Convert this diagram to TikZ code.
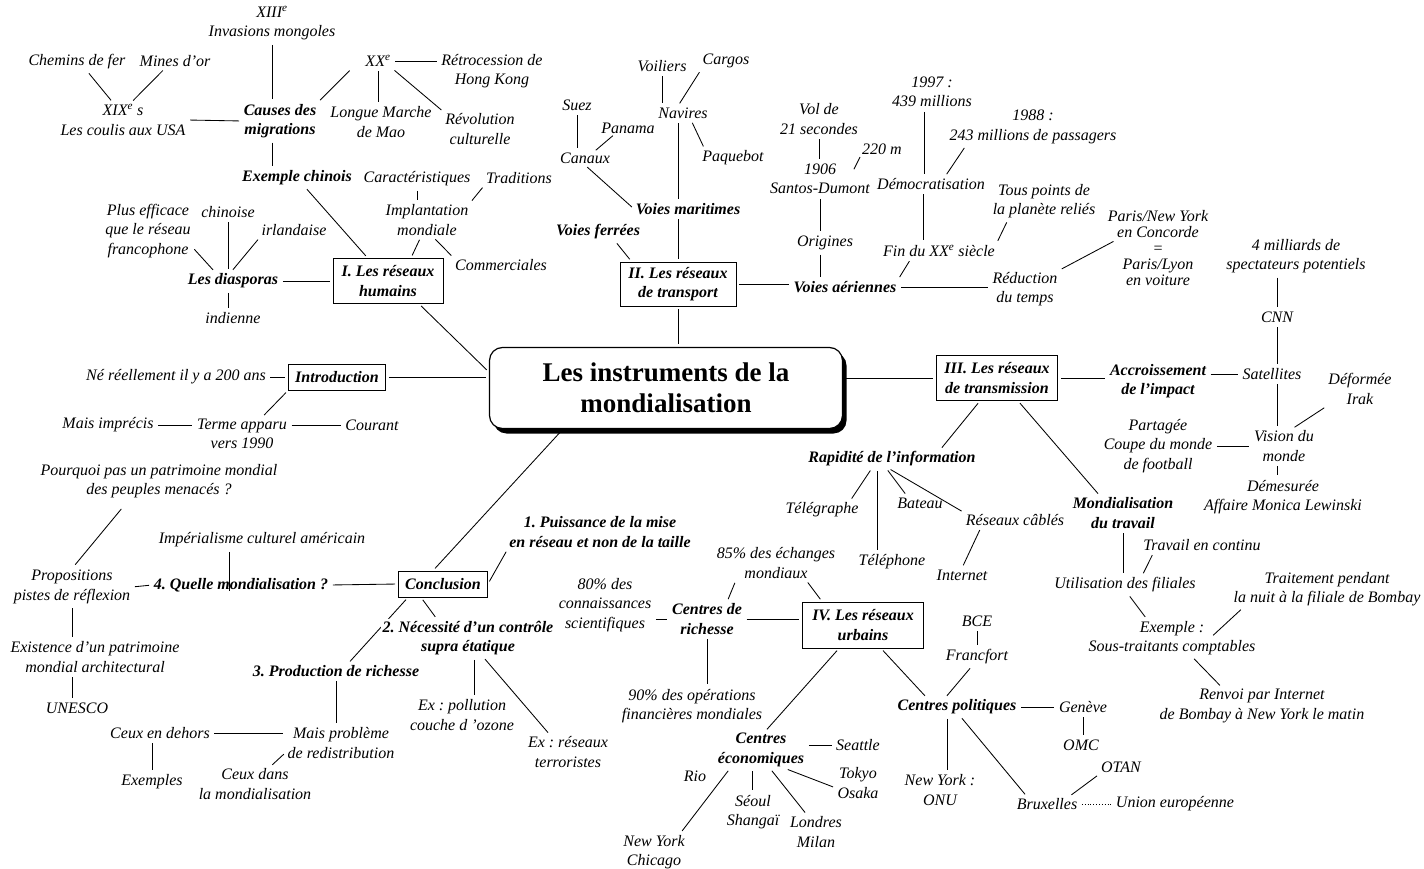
\documentclass[tikz,border=0pt]{standalone}
\usepackage{fontspec}
\setmainfont{Liberation Serif}
\usetikzlibrary{shadows,backgrounds}
\begin{document}
\frenchspacing
\begin{tikzpicture}[x=1pt,y=-1pt,
  t/.style={font=\fontsize{16}{19.5}\selectfont\itshape, align=center, inner sep=1.5pt},
  b/.style={t, font=\fontsize{16}{19.5}\selectfont\bfseries\itshape},
  box/.style={b, draw, line width=0.8pt, inner xsep=4pt, inner ysep=3pt},
  titlebox/.style={draw, line width=1.2pt, rounded corners=13pt, fill=white,
    minimum width=353pt, minimum height=81pt, align=center,
    font=\fontsize{27}{31}\selectfont\bfseries,
    drop shadow={shadow xshift=4pt, shadow yshift=-5pt, opacity=1, fill=black}},
  ln/.style={line width=0.85pt, shorten <=3pt, shorten >=3pt}]
\useasboundingbox (0,0) rectangle (1424,869);

% ---------- title
\node[titlebox] (title) at (666,388) {Les instruments de la\\mondialisation};

% ---------- I. reseaux humains
\node[t] (xiii) at (272,23) {XIII\textsuperscript{e}\\Invasions mongoles};
\node[t] (chemins) at (77,62) {Chemins de fer};
\node[t] (mines) at (175,61) {Mines d'or};
\node[t] (xix) at (123,120) {XIX\textsuperscript{e} s\\Les coulis aux USA};
\node[b] (causes) at (280,121) {Causes des\\migrations};
\node[t] (xx) at (378,61) {XX\textsuperscript{e}};
\node[t] (retro) at (492,71) {Rétrocession de\\Hong Kong};
\node[t] (longue) at (381,122) {Longue Marche\\de Mao};
\node[t] (revol) at (480,129) {Révolution\\culturelle};
\node[b] (exchinois) at (297,178) {Exemple chinois};
\node[t] (caract) at (417,179) {Caractéristiques};
\node[t] (traditions) at (519,178) {Traditions};
\node[t] (implant) at (427,220) {Implantation\\mondiale};
\node[t] (commerciales) at (501,265) {Commerciales};
\node[t] (plusefficace) at (148,231) {Plus efficace\\que le réseau\\francophone};
\node[t] (chinoise) at (228,212) {chinoise};
\node[t] (irlandaise) at (294,230) {irlandaise};
\node[b] (diasporas) at (233,281) {Les diasporas};
\node[t] (indienne) at (233,318) {indienne};
\node[box, minimum width=110pt, minimum height=45pt] (Ibox) at (388,281) {I. Les réseaux\\humains};

% ---------- II. transport
\node[t] (voiliers) at (662,66) {Voiliers};
\node[t] (cargos) at (726,61) {Cargos};
\node[t] (suez) at (577,105) {Suez};
\node[t] (navires) at (683,113) {Navires};
\node[t] (panama) at (628,128) {Panama};
\node[t] (canaux) at (585,158) {Canaux};
\node[t] (paquebot) at (733,158) {Paquebot};
\node[b] (voiesmar) at (688,209) {Voies maritimes};
\node[b] (voiesfer) at (598,232) {Voies ferrées};
\node[box, minimum width=116pt, minimum height=44pt] (IIbox) at (678,284) {II. Les réseaux\\de transport};
\node[t] (vol) at (819,119) {Vol de\\21 secondes};
\node[t] (m220) at (882,149) {220 m};
\node[t] (santos) at (820,179) {1906\\Santos-Dumont};
\node[t] (origines) at (825,243) {Origines};
\node[t] (y1997) at (932,92) {1997 :\\439 millions};
\node[t] (y1988) at (1033,127) {1988 :\\243 millions de passagers};
\node[t] (democ) at (931,184) {Démocratisation};
\node[t] (tous) at (1044,201) {Tous points de\\la planète reliés};
\node[t] (fin) at (939,251) {Fin du XX\textsuperscript{e} siècle};
\node[b] (voiesaer) at (845,287) {Voies aériennes};
\node[t] (reduction) at (1025,289) {Réduction\\du temps};
\node[t, font=\fontsize{16}{15.8}\selectfont\itshape] (paris) at (1158,248) {Paris/New York\\en Concorde\\=\\Paris/Lyon\\en voiture};

% ---------- III. transmission
\node[box, minimum width=121pt, minimum height=45pt] (IIIbox) at (997,378) {III. Les réseaux\\de transmission};
\node[b] (accrois) at (1158,381) {Accroissement\\de l'impact};
\node[t] (satellites) at (1272,374) {Satellites};
\node[t] (milliards) at (1296,256) {4 milliards de\\spectateurs potentiels};
\node[t] (cnn) at (1277,317) {CNN};
\node[t] (deformee) at (1360,389) {Déformée\\Irak};
\node[t] (vision) at (1284,446) {Vision du\\monde};
\node[t] (partagee) at (1158,446) {Partagée\\Coupe du monde\\de football};
\node[t] (demesuree) at (1283,497) {Démesurée\\Affaire Monica Lewinski};
\node[b] (rapidite) at (892,459) {Rapidité de l'information};
\node[t] (telegraphe) at (822,510) {Télégraphe};
\node[t] (bateau) at (920,503) {Bateau};
\node[t] (cables) at (1015,520) {Réseaux câblés};
\node[t] (telephone) at (892,562) {Téléphone};
\node[t] (internet) at (962,575) {Internet};
\node[b] (mondtravail) at (1123,513) {Mondialisation\\du travail};
\node[t] (travailcontinu) at (1202,545) {Travail en continu};
\node[t] (utilisation) at (1125,585) {Utilisation des filiales};
\node[t] (traitement) at (1327,589) {Traitement pendant\\la nuit à la filiale de Bombay};
\node[t] (exemple) at (1172,638) {Exemple :\\Sous-traitants comptables};
\node[t] (renvoi) at (1262,706) {Renvoi par Internet\\de Bombay à New York le matin};

% ---------- IV. urbains
\node[box, minimum width=121pt, minimum height=46pt] (IVbox) at (863,625) {IV. Les réseaux\\urbains};
\node[b] (centresrich) at (707,619) {Centres de\\richesse};
\node[t] (pct85) at (776,563) {85\% des échanges\\mondiaux};
\node[t] (pct80) at (605,605) {80\% des\\connaissances\\scientifiques};
\node[t] (pct90) at (692,706) {90\% des opérations\\financières mondiales};
\node[b] (centreseco) at (761,750) {Centres\\économiques};
\node[t] (seattle) at (858,745) {Seattle};
\node[t] (tokyo) at (858,783) {Tokyo\\Osaka};
\node[t] (rio) at (695,776) {Rio};
\node[t] (seoul) at (753,812) {Séoul\\Shangaï};
\node[t] (londres) at (816,832) {Londres\\Milan};
\node[t] (nyc) at (654,852) {New York\\Chicago};
\node[t] (bce) at (977,621) {BCE};
\node[t] (francfort) at (977,657) {Francfort};
\node[b] (centrespol) at (957,707) {Centres politiques};
\node[t] (geneve) at (1083,707) {Genève};
\node[t] (omc) at (1081,745) {OMC};
\node[t] (otan) at (1121,767) {OTAN};
\node[t] (nyonu) at (940,790) {New York :\\ONU};
\node[t] (bruxelles) at (1047,804) {Bruxelles};
\node[t] (ue) at (1175,804) {Union européenne};

% ---------- introduction / conclusion
\node[box, minimum width=97pt, minimum height=26pt, inner ysep=2pt] (intro) at (337,377) {Introduction};
\node[t] (ne) at (176,377) {Né réellement il y a 200 ans};
\node[t] (terme) at (242,434) {Terme apparu\\vers 1990};
\node[t] (mais) at (108,425) {Mais imprécis};
\node[t] (courant) at (372,425) {Courant};
\node[t] (pourquoi) at (159,481) {Pourquoi pas un patrimoine mondial\\des peuples menacés ?};
\node[t] (imperialisme) at (262,540) {Impérialisme culturel américain};
\node[t] (propositions) at (72,587) {Propositions\\pistes de réflexion};
\node[b] (quelle) at (241,585) {4. Quelle mondialisation ?};
\node[box, minimum width=89pt, minimum height=26pt, inner ysep=2pt] (conclusion) at (443,584) {Conclusion};
\node[b] (puissance) at (600,532) {1. Puissance de la mise\\en réseau et non de la taille};
\node[b, fill=white] (necessite) at (468,638) {2. Nécessité d'un contrôle\\supra étatique};
\node[b] (production) at (336,671) {3. Production de richesse};
\node[t] (existence) at (95,657) {Existence d'un patrimoine\\mondial architectural};
\node[t] (unesco) at (77,708) {UNESCO};
\node[t] (maisprob) at (341,743) {Mais problème\\de redistribution};
\node[t] (ceuxdehors) at (160,733) {Ceux en dehors};
\node[t] (exemples) at (152,782) {Exemples};
\node[t] (ceuxdans) at (255,784) {Ceux dans\\la mondialisation};
\node[t] (pollution) at (462,715) {Ex : pollution\\couche d 'ozone};
\node[t] (terroristes) at (568,752) {Ex : réseaux\\terroristes};

\begin{pgfonlayer}{background}
\fill[white] (0,0) rectangle (1424,869);
% top-left
\draw[ln] (xiii.south) -- (xiii.south |- causes.north);
\draw[ln] ([xshift=10pt]chemins.south) -- ([xshift=-10pt]xix.north);
\draw[ln] ([xshift=-10pt]mines.south) -- ([xshift=8pt]xix.north);
\draw[ln] (xix.east) -- (causes.west);
\draw[ln] (causes.north east) -- ([xshift=-12pt]xx.south west);
\draw[ln] (xx.east) -- (retro.west |- xx.east);
\draw[ln] (xx.south) -- (xx.south |- longue.north);
\draw[ln] (xx.south east) -- (revol.north west);
\draw[ln] (xiii.south |- causes.south) -- (xiii.south |- exchinois.north);
\draw[ln] (exchinois) -- (Ibox);
\draw[ln] (caract.south) -- (caract.south |- implant.north);
\draw[ln] (traditions.south west) -- (implant.north east);
\draw[ln] (implant.250) -- (Ibox.45);
\draw[ln] (implant.290) -- (commerciales.north west);
\draw[ln] (plusefficace.-20) -- ([xshift=-18pt]diasporas.north);
\draw[ln] (chinoise.south) -- (chinoise.south |- diasporas.north);
\draw[ln] (irlandaise.south west) -- ([xshift=-2pt]diasporas.north);
\draw[ln] (diasporas.east) -- (Ibox.west |- diasporas.east);
\draw[ln] (chinoise.south |- diasporas.south) -- (chinoise.south |- indienne.north);
\draw[ln] ([xshift=31pt]Ibox.south) -- ([yshift=16pt]title.west);
% intro
\draw[ln] (intro.east) -- (title.west |- intro.east);
\draw[ln] (ne.east) -- (intro.west);
\draw[ln] (intro.south west) -- ([xshift=20pt]terme.north);
\draw[ln] (mais.east) -- (terme.west |- mais.east);
\draw[ln] (terme.east |- courant.west) -- (courant.west);
% conclusion
\draw[ln] ([xshift=-103pt]title.south) -- ([xshift=-10pt]conclusion.north);
\draw[ln] (conclusion.east) -- (puissance.south west);
\draw[ln] (quelle.east) -- (conclusion.west);
\draw[ln] ([xshift=-33pt]imperialisme.south) -- ([xshift=-33pt]imperialisme.south |- quelle.south);
\draw[ln] (propositions.east) -- (quelle.west);
\draw[ln, shorten <=12pt, shorten >=5pt] ([xshift=-30pt]pourquoi.south) -- (propositions.north);
\draw[ln] (propositions.south) -- (propositions.south |- existence.north);
\draw[ln] (propositions.south |- existence.south) -- (propositions.south |- unesco.north);
\draw[ln] ([xshift=-35pt]conclusion.south) -- ([xshift=12pt]production.north);
\draw[ln] ([xshift=-22pt]conclusion.south) -- ([xshift=-31pt]necessite.north);
\draw[ln] ([xshift=6pt]necessite.south) -- ([xshift=6pt]necessite.south |- pollution.north);
\draw[ln] ([xshift=15pt]necessite.south) -- ([xshift=-18pt]terroristes.north);
\draw[ln] (production.south) -- (production.south |- maisprob.north);
\draw[ln] (ceuxdehors.east) -- (maisprob.west |- ceuxdehors.east);
\draw[ln] ([yshift=8pt]maisprob.south west) -- ([xshift=15pt]ceuxdans.north);
\draw[ln] (exemples.north |- ceuxdehors.south) -- (exemples.north);
% transport
\draw[ln] (voiliers.south) -- (voiliers.south |- navires.north);
\draw[ln] (cargos.south west) -- ([xshift=-5pt]navires.north);
\draw[ln] ([xshift=8pt]navires.south) -- ([xshift=4pt]paquebot.north west);
\draw[ln] (suez.south) -- (suez.south |- canaux.north);
\draw[ln, shorten <=1pt, shorten >=1pt] ([xshift=14pt]panama.south west) -- ([xshift=10pt]canaux.north);
\draw[ln] (canaux.south) -- (voiesmar.west);
\draw[ln] (IIbox.north |- navires.south) -- (IIbox.north |- voiesmar.north);
\draw[ln] (IIbox.north |- voiesmar.south) -- (IIbox.north);
\draw[ln] ([xshift=17pt]voiesfer.south) -- ([xshift=12pt]IIbox.north west);
\draw[ln] (IIbox.south) -- (IIbox.south |- title.north);
\draw[ln] (IIbox.east) -- (voiesaer.west |- IIbox.east);
% air
\draw[ln] (vol.south) -- (vol.south |- santos.north);
\draw[ln, shorten <=1pt, shorten >=1pt] (m220.south west) -- ([xshift=-18pt,yshift=-8pt]santos.north east);
\draw[ln] (santos.south) -- (santos.south |- origines.north);
\draw[ln] (santos.south |- origines.south) -- (santos.south |- voiesaer.north);
\draw[ln] ([xshift=-8pt]y1997.south) -- ([xshift=-8pt]y1997.south |- democ.north);
\draw[ln] ([xshift=-67pt]y1988.south) -- ([xshift=14pt]democ.north);
\draw[ln] ([xshift=-8pt]democ.south) -- ([xshift=-8pt]democ.south |- fin.north);
\draw[ln] ([xshift=-36pt]tous.south) -- (fin.north east);
\draw[ln] ([xshift=-28pt]fin.south) -- (voiesaer.north east);
\draw[ln] (voiesaer.east) -- (reduction.west |- voiesaer.east);
\draw[ln] (reduction.north east) -- ([xshift=10pt,yshift=8pt]paris.west);
% transmission
\draw[ln] (title.east |- IIIbox.west) -- (IIIbox.west);
\draw[ln] (IIIbox.east) -- (accrois.west |- IIIbox.east);
\draw[ln] (accrois.east |- satellites.west) -- (satellites.west);
\draw[ln] (cnn.north |- milliards.south) -- (cnn.north);
\draw[ln] (cnn.south) -- (cnn.south |- satellites.north);
\draw[ln] (cnn.south |- satellites.south) -- (cnn.south |- vision.north);
\draw[ln] (deformee.south west) -- ([xshift=8pt]vision.north);
\draw[ln] (partagee.east |- vision.west) -- (vision.west);
\draw[ln] (cnn.south |- vision.south) -- (cnn.south |- demesuree.north);
\draw[ln] ([xshift=-17pt]IIIbox.south) -- ([xshift=48pt]rapidite.north);
\draw[ln] ([xshift=21pt]IIIbox.south) -- ([xshift=-23pt]mondtravail.north);
\draw[ln] ([xshift=-20pt]rapidite.south) -- ([xshift=28pt]telegraphe.north);
\draw[ln] ([xshift=-15pt]rapidite.south) -- ([xshift=-15pt]rapidite.south |- telephone.north);
\draw[ln] ([xshift=-6pt]rapidite.south) -- ([xshift=-13pt]bateau.north);
\draw[ln] ([xshift=-4pt]rapidite.south) -- (cables.north west);
\draw[ln] ([xshift=-34pt]cables.south) -- (internet.north);
\draw[ln] (mondtravail.south) -- (mondtravail.south |- utilisation.north);
\draw[ln] ([xshift=12pt]travailcontinu.south west) -- ([xshift=17pt]utilisation.north);
\draw[ln] ([xshift=3pt]utilisation.south) -- ([xshift=-25pt]exemple.north);
\draw[ln] ([xshift=11pt]traitement.south west) -- ([xshift=39pt,yshift=-18pt]exemple.north);
\draw[ln] ([xshift=20pt]exemple.south) -- ([xshift=-40pt]renvoi.north);
% urbains
\draw[ln] ([xshift=-40pt]pct85.south) -- ([xshift=20pt]centresrich.north);
\draw[ln] ([xshift=30pt]pct85.south) -- ([xshift=20pt]IVbox.north west);
\draw[ln] (pct80.east |- centresrich.west) -- (centresrich.west);
\draw[ln] (centresrich.east) -- (IVbox.west |- centresrich.east);
\draw[ln] (centresrich.south) -- (centresrich.south |- pct90.north);
\draw[ln] ([xshift=-24pt]IVbox.south) -- ([xshift=4pt]centreseco.north);
\draw[ln] ([xshift=18pt]IVbox.south) -- ([xshift=-30pt]centrespol.north);
\draw[ln] (centreseco.east |- seattle.west) -- (seattle.west);
\draw[ln] ([xshift=24pt]centreseco.south) -- ([yshift=-5pt]tokyo.west);
\draw[ln] ([xshift=-31pt]centreseco.south) -- ([xshift=-6pt]nyc.north east);
\draw[ln] ([xshift=-9pt]centreseco.south) -- ([xshift=-9pt]centreseco.south |- seoul.north);
\draw[ln] ([xshift=9pt]centreseco.south) -- ([xshift=-9pt]londres.north);
\draw[ln] (bce.south) -- (bce.south |- francfort.north);
\draw[ln] ([xshift=-5pt]francfort.south) -- ([xshift=-12pt]centrespol.north);
\draw[ln] (centrespol.east) -- (geneve.west);
\draw[ln] (geneve.south) -- (geneve.south |- omc.north);
\draw[ln] ([xshift=-10pt]centrespol.south) -- ([xshift=-10pt]centrespol.south |- nyonu.north);
\draw[ln] ([xshift=3pt]centrespol.south) -- ([xshift=-20pt]bruxelles.north);
\draw[ln] (otan.south west) -- ([xshift=22pt]bruxelles.north);
\draw[ln, dotted] (bruxelles.east) -- (ue.west);
\end{pgfonlayer}
\end{tikzpicture}
\end{document}
